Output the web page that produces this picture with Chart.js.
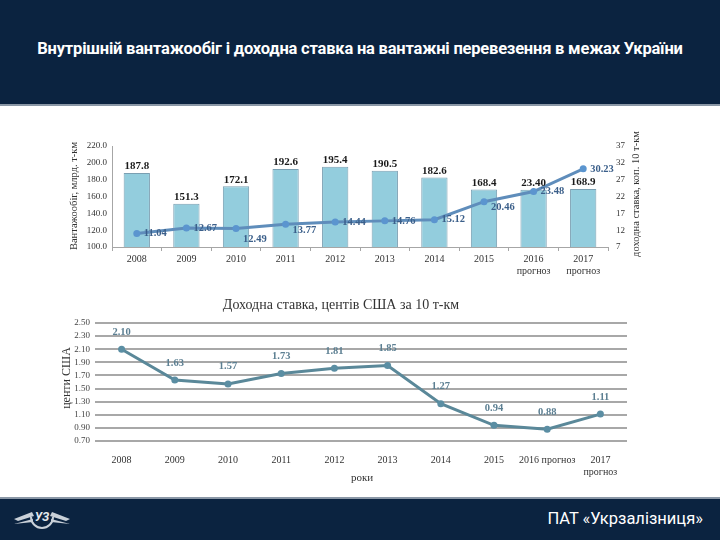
<!DOCTYPE html>
<html>
<head>
<meta charset="utf-8">
<script src="https://cdn.jsdelivr.net/npm/chart.js@4.4.0/dist/chart.umd.min.js"></script>
<style>
  html, body { margin: 0; padding: 0; }
  body { width: 720px; height: 540px; position: relative; background: #fff; overflow: hidden; font-family: Roboto, "Noto Sans", sans-serif; }
  .header { position: absolute; left: 0; top: 0; width: 720px; height: 104px; background: #0b2340; border-bottom: 2px solid #8a97a6; }
  .header h1 { margin: 0; position: absolute; left: 0; width: 720px; top: 39px; text-align: center; color: #fff; font-size: 16.5px; font-weight: 700; letter-spacing: -0.2px; }
  .footer { position: absolute; left: 0; top: 497px; width: 720px; height: 43px; background: #0b2340; border-top: 2px solid #8a97a6; }
  .footer span { position: absolute; right: 17px; top: 10px; color: #fff; font-size: 16.5px; }
  .footer svg { position: absolute; left: 12px; top: 4px; }
  canvas { position: absolute; }
</style>
</head>
<body>
<div class="header"><h1>Внутрішній вантажообіг і доходна ставка на вантажні перевезення в межах України</h1></div>

<canvas id="top" width="600" height="150" style="left:60px;top:130px"></canvas>
<canvas id="bottom" width="600" height="200" style="left:60px;top:290px"></canvas>

<div class="footer">
  <svg width="60" height="36" viewBox="0 0 60 36">
    <path d="M2 16 L20 9 L22 13 L6 18 Z M2 21 L21 16 L21 19 Z" fill="#c9d0d8"/>
    <path d="M58 16 L40 9 L38 13 L54 18 Z M58 21 L39 16 L39 19 Z" fill="#c9d0d8"/>
    <path d="M19 14 A11 11 0 0 0 41 14" fill="none" stroke="#c9d0d8" stroke-width="2"/>
    <text x="30" y="18" text-anchor="middle" font-family="Roboto" font-weight="700" font-style="italic" font-size="12" fill="#e6eaee">УЗ</text>
  </svg>
  <span>ПАТ «Укрзалізниця»</span>
</div>

<script>
// --- top chart data ---
const years = ['2008', '2009', '2010', '2011', '2012', '2013', '2014', '2015', ['2016', 'прогноз'], ['2017', 'прогноз']];
const freightTurnover = [187.8, 151.3, 172.1, 192.6, 195.4, 190.5, 182.6, 168.4, 168.0, 168.9];
const freightLabels = ['187.8', '151.3', '172.1', '192.6', '195.4', '190.5', '182.6', '168.4', '23.40', '168.9'];
const rateKop = [11.04, 12.67, 12.49, 13.77, 14.44, 14.76, 15.12, 20.46, 23.48, 30.23];

// --- bottom chart data ---
const rateYears = ['2008', '2009', '2010', '2011', '2012', '2013', '2014', '2015', '2016 прогноз', ['2017', 'прогноз']];
const rateCents = [2.10, 1.63, 1.57, 1.73, 1.81, 1.85, 1.27, 0.94, 0.88, 1.11];

const SERIF = '"Liberation Serif", "DejaVu Serif", serif';

function fixSize(w, h) {
  return (scale) => {
    if (w != null) scale.width = w;
    if (h != null) scale.height = h;
  };
}

function rotText(ctx, text, x, y, font, color) {
  ctx.save();
  ctx.translate(x, y);
  ctx.rotate(-Math.PI / 2);
  ctx.font = font;
  ctx.fillStyle = color;
  ctx.textAlign = 'center';
  ctx.textBaseline = 'middle';
  ctx.fillText(text, 0, 0);
  ctx.restore();
}

// small vertical nudges for the rate labels so they sit off the line
const rateLabelDy = [0, 0, 11, 6, 0, 0, 0, 6, 0, 0];

const topLabels = {
  id: 'topLabels',
  afterDatasetsDraw(chart) {
    const ctx = chart.ctx;
    ctx.save();
    ctx.font = 'bold 11px ' + SERIF;
    ctx.fillStyle = '#1a1a1a';
    ctx.textAlign = 'center';
    ctx.textBaseline = 'bottom';
    chart.getDatasetMeta(0).data.forEach((bar, i) => {
      ctx.fillText(freightLabels[i], bar.x, bar.y - 1);
    });
    ctx.font = 'bold 10.5px ' + SERIF;
    ctx.fillStyle = '#3b5f8a';
    ctx.textAlign = 'left';
    ctx.textBaseline = 'middle';
    chart.getDatasetMeta(1).data.forEach((pt, i) => {
      ctx.fillText(rateKop[i].toFixed(2), pt.x + 7, pt.y + rateLabelDy[i]);
    });
    ctx.restore();
    rotText(ctx, 'Вантажообіг, млрд. т-км', 14, 66, '10.5px ' + SERIF, '#333');
    rotText(ctx, 'доходна ставка, коп. 10 т-км', 576, 64, '10.5px ' + SERIF, '#333');
  }
};

new Chart(document.getElementById('top'), {
  data: {
    labels: years,
    datasets: [
      {
        type: 'bar',
        data: freightTurnover,
        yAxisID: 'y',
        backgroundColor: '#93cddd',
        borderColor: '#7a9fb2',
        borderWidth: 1,
        barPercentage: 0.53,
        categoryPercentage: 1,
        order: 2
      },
      {
        type: 'line',
        data: rateKop,
        yAxisID: 'y1',
        borderColor: '#5f8dbb',
        borderWidth: 3,
        pointRadius: 3.5,
        pointBorderWidth: 0,
        pointBackgroundColor: '#5b95cf',
        tension: 0,
        order: 1
      }
    ]
  },
  options: {
    responsive: false,
    animation: false,
    layout: { padding: { top: 16, left: 0, right: 0, bottom: 0 } },
    plugins: { legend: { display: false }, tooltip: { enabled: false } },
    scales: {
      x: {
        afterFit: fixSize(null, 33),
        grid: { display: true, offset: true, drawOnChartArea: false, tickLength: 4, color: '#a6a6a6' },
        border: { display: true, color: '#a6a6a6' },
        ticks: { font: { family: SERIF, size: 10 }, color: '#333', padding: 2, maxRotation: 0, autoSkip: false }
      },
      y: {
        position: 'left',
        min: 100, max: 220,
        afterFit: fixSize(52),
        grid: { display: false, drawTicks: false },
        border: { display: true, color: '#a6a6a6' },
        ticks: { stepSize: 20, autoSkip: false, font: { family: SERIF, size: 9 }, color: '#333', padding: 5, callback: (v) => v.toFixed(1) }
      },
      y1: {
        position: 'right',
        min: 7, max: 37,
        afterFit: fixSize(52),
        grid: { display: false, drawTicks: false },
        border: { display: false },
        ticks: { stepSize: 5, autoSkip: false, font: { family: SERIF, size: 9 }, color: '#333', padding: 8 }
      }
    }
  },
  plugins: [topLabels]
});

const bottomLabels = {
  id: 'bottomLabels',
  afterDatasetsDraw(chart) {
    const ctx = chart.ctx;
    ctx.save();
    ctx.font = 'bold 10.5px ' + SERIF;
    ctx.fillStyle = '#5c7f92';
    ctx.textAlign = 'center';
    ctx.textBaseline = 'bottom';
    chart.getDatasetMeta(0).data.forEach((pt, i) => {
      ctx.fillText(rateCents[i].toFixed(2), pt.x, pt.y - 12);
    });
    ctx.font = '14px ' + SERIF;
    ctx.fillStyle = '#333';
    ctx.textBaseline = 'middle';
    ctx.fillText('Доходна ставка, центів США за 10 т-км', 281, 15);
    ctx.font = '11px ' + SERIF;
    ctx.fillText('роки', 302, 188);
    ctx.restore();
    rotText(ctx, 'центи США', 7, 88, '12px ' + SERIF, '#333');
  }
};

new Chart(document.getElementById('bottom'), {
  type: 'line',
  data: {
    labels: rateYears,
    datasets: [{
      data: rateCents,
      borderColor: '#5a8899',
      borderWidth: 3,
      pointRadius: 3.5,
      pointBorderWidth: 0,
      pointBackgroundColor: '#5b8ea3',
      tension: 0
    }]
  },
  options: {
    responsive: false,
    animation: false,
    layout: { padding: { top: 33, left: 0, right: 33, bottom: 0 } },
    plugins: { legend: { display: false }, tooltip: { enabled: false } },
    scales: {
      x: {
        offset: true,
        afterFit: fixSize(null, 49),
        grid: { display: false },
        border: { display: false },
        ticks: { font: { family: SERIF, size: 10 }, color: '#333', padding: 5, maxRotation: 0, autoSkip: false }
      },
      y: {
        min: 0.7, max: 2.5,
        afterFit: fixSize(35),
        grid: { color: '#a8a8a8', lineWidth: 2, drawTicks: false },
        border: { display: false },
        ticks: { stepSize: 0.2, autoSkip: false, font: { family: SERIF, size: 9 }, color: '#444', padding: 5, callback: (v) => v.toFixed(2) }
      }
    }
  },
  plugins: [bottomLabels]
});
</script>
</body>
</html>
